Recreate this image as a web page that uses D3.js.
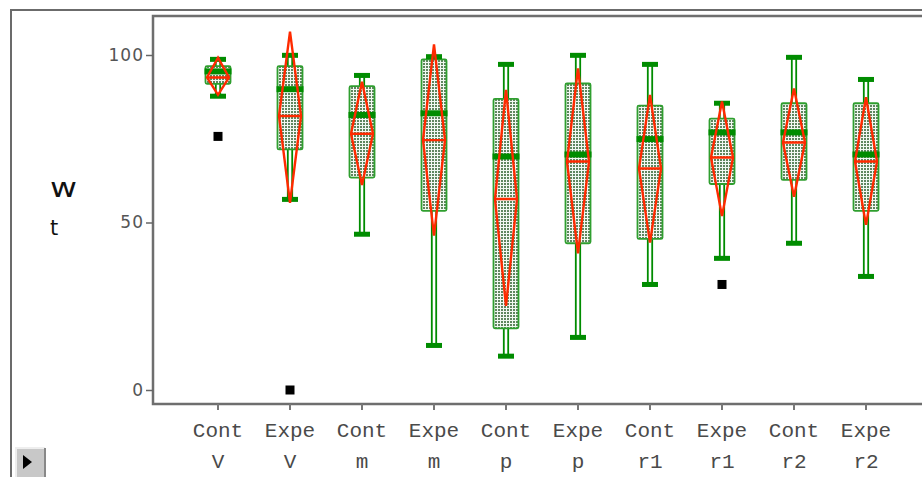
<!DOCTYPE html>
<html>
<head>
<meta charset="utf-8">
<title>Box plot</title>
<style>
  body { margin: 0; background: #fff; }
  svg { display: block; }
</style>
</head>
<body>
<div id="chart"></div>
<script src="https://d3js.org/d3.v7.min.js"></script>
<script>
// groups along the x axis (two label rows)
const group1 = ['Cont', 'Expe', 'Cont', 'Expe', 'Cont', 'Expe', 'Cont', 'Expe', 'Cont', 'Expe'];
const group2 = ['V', 'V', 'm', 'm', 'p', 'p', 'r1', 'r1', 'r2', 'r2'];

// box statistics
const whiskerLow  = [87.7, 56.9, 46.5, 13.3, 10.1, 15.7, 31.5, 39.3, 43.8, 33.9];
const q1          = [91.4, 71.8, 63.4, 53.5, 18.4, 43.8, 45.1, 61.5, 62.7, 53.5];
const median      = [95.1, 89.8, 82.1, 82.6, 69.7, 70.3, 74.9, 76.9, 76.9, 70.3];
const q3          = [96.7, 96.7, 90.7, 98.7, 86.9, 91.5, 84.9, 81.0, 85.6, 85.6];
const whiskerHigh = [98.7, 99.9, 93.9, 99.5, 97.2, 99.9, 97.2, 85.6, 99.3, 92.7];

// mean diamonds (mean and confidence limits)
const mean   = [93.3, 81.8, 76.5, 74.6, 57.0, 68.2, 66.1, 69.4, 73.9, 68.2];
const ciLow  = [88.1, 55.9, 61.2, 46.1, 25.1, 40.8, 44.0, 51.9, 57.7, 49.3];
const ciHigh = [99.2, 107.0, 92.0, 103.2, 89.6, 96.0, 88.1, 86.1, 90.0, 87.4];

// outliers: [group index, value]
const outliers = [[0, 75.7], [1, 0], [7, 31.5]];

const yTicks = [0, 50, 100];
const yTitle = ['w', 't'];

const W = 922, H = 477;
const green = '#008c00';
const red = '#ff2a00';

const svg = d3.select('#chart')
  .append('svg')
  .attr('width', W)
  .attr('height', H);

const defs = svg.append('defs');
const pat = defs.append('pattern')
  .attr('id', 'dots')
  .attr('patternUnits', 'userSpaceOnUse')
  .attr('width', 3)
  .attr('height', 3);
pat.append('rect').attr('width', 3).attr('height', 3).attr('fill', '#f2f8f2');
pat.append('rect').attr('width', 2).attr('height', 2).attr('fill', '#5f865f');

const keys = group1.map((g, i) => g + '|' + group2[i]);

const x = d3.scaleBand()
  .domain(keys)
  .range([182, 902]);

const y = d3.scaleLinear()
  .domain([0, 100])
  .range([390, 55]);

const cx = i => x(keys[i]) + x.bandwidth() / 2;

// outer frame
svg.append('path')
  .attr('d', `M11,${H} V10 H${W}`)
  .attr('fill', 'none')
  .attr('stroke', '#6b6b6b')
  .attr('stroke-width', 2);

// plot frame
svg.append('path')
  .attr('d', `M${W},16 H153 V404 H${W}`)
  .attr('fill', 'none')
  .attr('stroke', '#6e6e6e')
  .attr('stroke-width', 2.5);

// y axis
const yAxis = svg.append('g')
  .attr('transform', 'translate(153,0)')
  .call(d3.axisLeft(y).tickValues(yTicks).tickSize(7).tickPadding(2));
yAxis.select('.domain').remove();
yAxis.selectAll('line').attr('stroke', '#666').attr('stroke-width', 1.5);
yAxis.selectAll('text')
  .attr('fill', '#555')
  .style('font-family', 'DejaVu Sans')
  .style('font-size', '17px')
  .style('letter-spacing', '1px');

// y title, stacked letters
svg.append('g').selectAll('text')
  .data(yTitle)
  .join('text')
  .attr('x', 50)
  .attr('y', (d, i) => 197 + i * 38)
  .attr('fill', '#111')
  .style('font-family', 'DejaVu Sans')
  .style('font-size', d => d === 'w' ? '26px' : '21px')
  .attr('textLength', d => d === 'w' ? 27 : null)
  .attr('lengthAdjust', 'spacingAndGlyphs')
  .text(d => d);

// x axis
const xAxis = svg.append('g')
  .attr('transform', 'translate(0,404)')
  .call(d3.axisBottom(x).tickSize(6).tickFormat(''));
xAxis.select('.domain').remove();
xAxis.selectAll('line').attr('stroke', '#777').attr('stroke-width', 2);

const xl = svg.append('g').selectAll('g')
  .data(keys)
  .join('g')
  .attr('transform', (d, i) => `translate(${cx(i)},0)`)
  .style('font-family', 'Liberation Mono')
  .style('font-size', '21px')
  .attr('fill', '#4a4a4a')
  .attr('text-anchor', 'middle');
xl.append('text').attr('y', 437).text((d, i) => group1[i]);
xl.append('text').attr('y', 468).text((d, i) => group2[i]);

const idx = d3.range(keys.length);
const plot = svg.append('g');

// whiskers: double green line
plot.selectAll('.wl')
  .data(idx)
  .join('g')
  .each(function(i) {
    const g = d3.select(this);
    [-2.2, 2.2].forEach(dx => {
      g.append('line')
        .attr('x1', cx(i) + dx).attr('x2', cx(i) + dx)
        .attr('y1', y(whiskerLow[i])).attr('y2', y(whiskerHigh[i]))
        .attr('stroke', green)
        .attr('stroke-width', 1.8);
    });
  });

// boxes
plot.selectAll('.box')
  .data(idx)
  .join('rect')
  .attr('x', i => cx(i) - 12.5)
  .attr('width', 25)
  .attr('y', i => y(q3[i]))
  .attr('height', i => y(q1[i]) - y(q3[i]))
  .attr('rx', 1.5)
  .attr('fill', 'url(#dots)')
  .attr('stroke', '#2f9f2f')
  .attr('stroke-width', 1.8);

// medians
plot.selectAll('.med')
  .data(idx)
  .join('rect')
  .attr('x', i => cx(i) - 13.5)
  .attr('width', 27)
  .attr('y', i => y(median[i]) - 3)
  .attr('height', 6)
  .attr('fill', green);

// caps
[whiskerLow, whiskerHigh].forEach(arr => {
  plot.append('g').selectAll('rect')
    .data(idx)
    .join('rect')
    .attr('x', i => cx(i) - 8)
    .attr('width', 16)
    .attr('y', i => y(arr[i]) - 2.5)
    .attr('height', 5)
    .attr('fill', green);
});

// mean diamonds
plot.selectAll('.dia')
  .data(idx)
  .join('path')
  .attr('d', i => {
    const c = cx(i), m = y(mean[i]);
    return `M${c},${y(ciHigh[i])} L${c + 11},${m} L${c},${y(ciLow[i])} L${c - 11},${m} Z` +
      ` M${c - 11},${m} H${c + 11}`;
  })
  .attr('fill', 'none')
  .attr('stroke', red)
  .attr('stroke-width', 2.4)
  .attr('stroke-linejoin', 'miter');

// outliers
plot.selectAll('.out')
  .data(outliers)
  .join('rect')
  .attr('x', d => cx(d[0]) - 4.5)
  .attr('y', d => y(d[1]) - 4.5)
  .attr('width', 9)
  .attr('height', 9)
  .attr('fill', '#000');

// little play button, bottom left
const btn = svg.append('g').attr('transform', 'translate(16,448)');
btn.append('rect').attr('width', 29).attr('height', 30).attr('fill', '#c8c8c8');
btn.append('path').attr('d', 'M0,30 V0 H29').attr('fill', 'none').attr('stroke', '#eee').attr('stroke-width', 2);
btn.append('path').attr('d', 'M29,0 V30').attr('fill', 'none').attr('stroke', '#888').attr('stroke-width', 2);
btn.append('path').attr('d', 'M7,7 L16,14 L7,21 Z').attr('fill', '#000');
</script>
</body>
</html>
